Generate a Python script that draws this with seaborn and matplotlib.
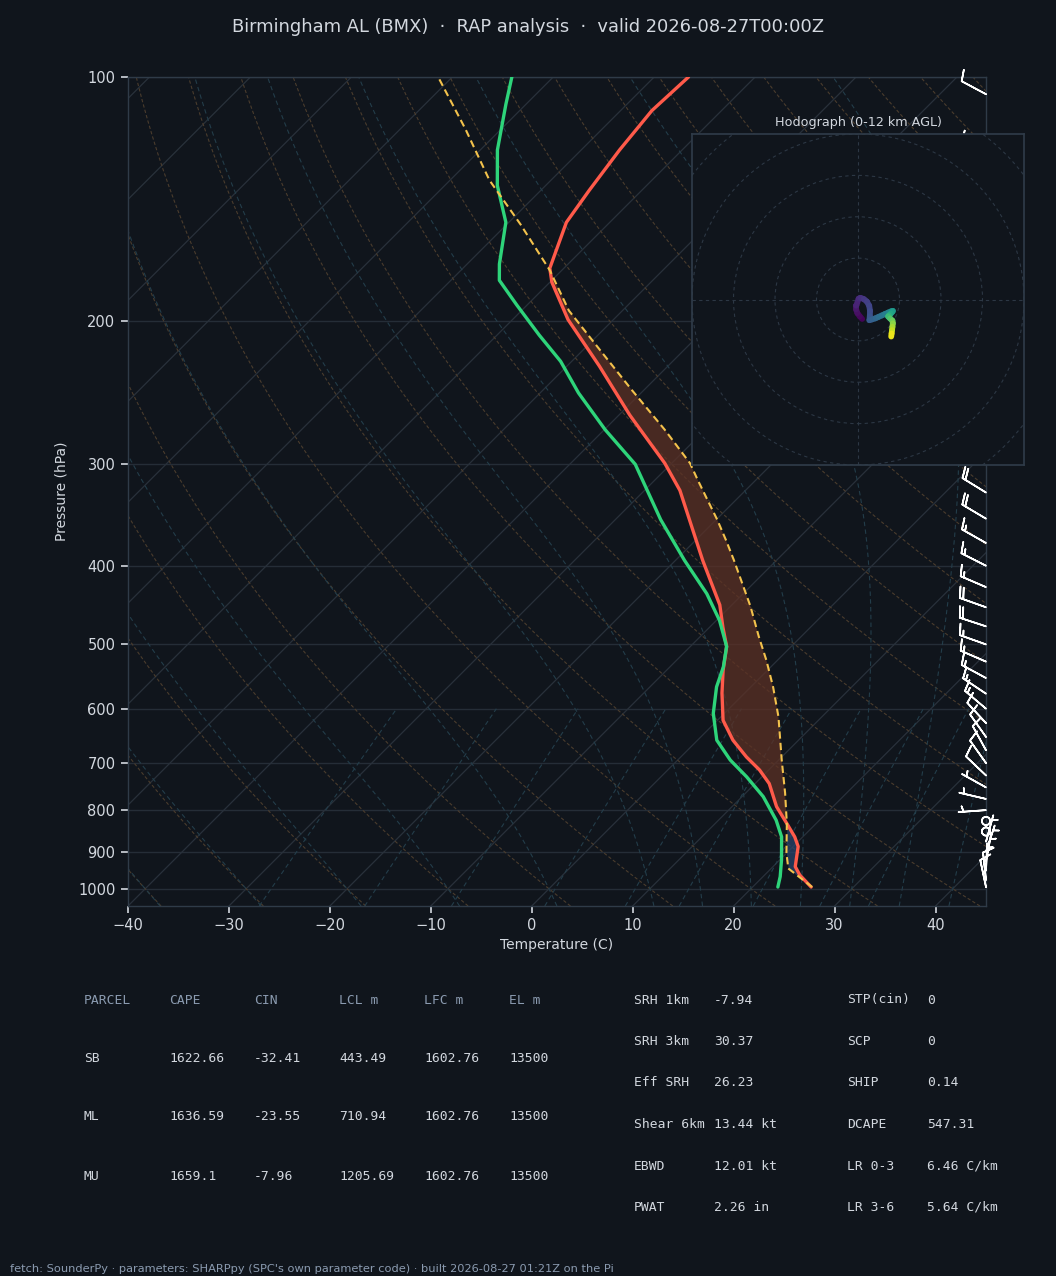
import numpy as np
import matplotlib
matplotlib.use("Agg")
import matplotlib.pyplot as plt
from matplotlib.collections import LineCollection
from matplotlib.colors import Normalize
from matplotlib.patches import Circle
import seaborn as sns

BG = "#10151c"
FG = "#d3d8df"
MUTED = "#8b9bb0"
SPINE = "#2f3b48"

sns.set_theme(style="dark", rc={
    "figure.facecolor": BG, "axes.facecolor": BG, "savefig.facecolor": BG,
    "axes.edgecolor": SPINE, "text.color": FG, "axes.labelcolor": FG,
    "xtick.color": FG, "ytick.color": FG,
})
plt.rcParams["font.family"] = ["DejaVu Sans"]

# ---------------- sounding ----------------
env_p = [995, 962, 939, 887, 863, 831, 792, 742, 714, 688, 656, 620, 574, 538,
         503, 476, 447, 394, 323, 299, 261, 227, 199, 179, 172, 151, 138, 123, 110, 100]
env_t = [25.8, 23.5, 22.2, 20.5, 19.2, 17.1, 14.4, 11.4, 9.1, 6.5, 3.5, 0.55, -2.25, -4.4,
         -6.4, -8.7, -11.2, -17.3, -26.5, -30.7, -38.9, -46.8, -54.5, -59.8, -61.4, -64.3,
         -65.2, -66.2, -66.9, -66.6]

dew_p = [995, 966, 922, 863, 823, 770, 728, 694, 656, 608, 564, 533, 503, 467, 433,
         394, 351, 300, 272, 245, 224, 208, 191, 178, 170, 151, 136, 123, 108, 100]
dew_t = [22.5, 21.7, 20.2, 17.9, 15.7, 12.1, 8.5, 5.2, 1.9, -1.1, -3.4, -4.7, -6.4, -9.7,
         -13.6, -19.1, -25.5, -33.5, -39.9, -46.2, -51.1, -55.8, -61.0, -65.2, -66.8,
         -70.3, -74.8, -78.3, -82.0, -84.1]

parcel_p = [995, 944, 904, 831, 762, 694, 614, 564, 523, 489, 449, 394, 372, 351, 332, 314,
            299, 272, 243, 217, 194, 173, 152, 134, 116, 100]
parcel_t = [25.9, 21.7, 20.0, 17.1, 13.9, 10.3, 5.7, 2.2, -1.1, -4.2, -8.0, -14.2, -17.0,
            -19.9, -22.8, -25.7, -28.2, -34.0, -41.2, -48.3, -55.3, -61.2, -68.6, -76.1,
            -83.5, -91.4]

# winds (kt) and heights AGL (km)
wind_p = [995, 975, 950, 925, 900, 875, 850, 825, 800, 775, 750, 725, 700, 675, 650, 625,
          600, 575, 550, 525, 500, 475, 450, 425, 400, 375, 350, 325, 300, 275, 250, 225,
          200, 175, 150, 125, 105]
wind_h = [0.0, 0.17, 0.39, 0.61, 0.84, 1.07, 1.31, 1.56, 1.81, 2.07, 2.34, 2.62, 2.91, 3.21,
          3.52, 3.84, 4.17, 4.52, 4.88, 5.25, 5.64, 6.05, 6.48, 6.93, 7.4, 7.9, 8.43, 8.99,
          9.59, 10.23, 10.6, 11.3, 12.0, 12.75, 13.65, 14.75, 15.8]
wind_u = [2.0, 0.9, -0.3, -0.9, -1.0, -0.8, 0.3, 1.2, 2.8, 4.3, 5.4, 5.8, 5.7, 5.5, 6.8, 8.4,
          9.9, 11.5, 13.0, 14.6, 16.0, 16.8, 16.6, 15.8, 15.0, 14.5, 15.5, 16.6, 16.8, 16.6,
          16.4, 16.2, 16.0, 13.0, 11.0, 9.5, 9.0]
wind_v = [-9.4, -8.2, -6.6, -4.8, -3.0, -2.9, 0.4, 0.8, 0.2, -1.0, -3.0, -5.5, -8.0, -10.0,
          -9.6, -9.1, -8.4, -7.7, -7.0, -6.3, -5.7, -5.5, -5.9, -6.8, -7.6, -8.2, -9.2, -10.2,
          -11.5, -13.2, -14.8, -16.4, -17.9, -12.0, -8.0, -5.5, -4.8]

# ---------------- parameter table ----------------
parcel_header = ["PARCEL", "CAPE", "CIN", "LCL m", "LFC m", "EL m"]
parcel_rows = [
    ["SB", "1622.66", "-32.41", "443.49", "1602.76", "13500"],
    ["ML", "1636.59", "-23.55", "710.94", "1602.76", "13500"],
    ["MU", "1659.1", "-7.96", "1205.69", "1602.76", "13500"],
]
index_left = [("SRH 1km", "-7.94"), ("SRH 3km", "30.37"), ("Eff SRH", "26.23"),
              ("Shear 6km", "13.44 kt"), ("EBWD", "12.01 kt"), ("PWAT", "2.26 in")]
index_right = [("STP(cin)", "0"), ("SCP", "0"), ("SHIP", "0.14"),
               ("DCAPE", "547.31"), ("LR 0-3", "6.46 C/km"), ("LR 3-6", "5.64 C/km")]

# ---------------- figure ----------------
W, H = 1056, 1276
fig = plt.figure(figsize=(W / 100, H / 100), dpi=100)

ax_l, ax_t, ax_r, ax_b = 128, 77, 986, 906
ax = fig.add_axes([ax_l / W, 1 - ax_b / H, (ax_r - ax_l) / W, (ax_b - ax_t) / H])

P_BOT, P_TOP = 1050, 100
T_MIN, T_MAX = -40, 45
# 45 degree skew on screen
K = ((ax_b - ax_t) / (ax_r - ax_l)) * (T_MAX - T_MIN) / np.log10(P_BOT / P_TOP)


def skew(t, p):
    return np.asarray(t, float) + K * np.log10(P_BOT / np.asarray(p, float))


ax.set_yscale("log")
ax.set_ylim(P_BOT, P_TOP)
ax.set_xlim(T_MIN, T_MAX)

# reference lines
pp = np.geomspace(P_BOT, P_TOP, 200)
for t0 in np.arange(-160, 50, 10):
    ax.plot(skew(np.full_like(pp, t0), pp), pp, color="#29313b", lw=0.9, zorder=1)

for th in np.arange(-50, 220, 10):
    t = (th + 273.15) * (pp / 1000.0) ** 0.2857 - 273.15
    ax.plot(skew(t, pp), pp, color="#4a3c2d", lw=0.8, ls=(0, (3, 2)), zorder=1)


def dtdp(t, p):
    es = 6.112 * np.exp(17.67 * (t - 273.15) / (t - 29.65))
    rs = 0.622 * es / (p - es)
    num = 287.04 * t + 2.501e6 * rs
    den = 1005.7 + (2.501e6 ** 2 * rs * 0.622) / (287.04 * t ** 2)
    return num / den / p


def moist_line(t0c, pres):
    out = [t0c + 273.15]
    for i in range(1, len(pres)):
        t, p0, dp = out[-1], pres[i - 1], pres[i] - pres[i - 1]
        k1 = dtdp(t, p0)
        k2 = dtdp(t + 0.5 * dp * k1, p0 + 0.5 * dp)
        k3 = dtdp(t + 0.5 * dp * k2, p0 + 0.5 * dp)
        k4 = dtdp(t + dp * k3, p0 + dp)
        out.append(t + dp * (k1 + 2 * k2 + 2 * k3 + k4) / 6)
    return np.array(out) - 273.15


MOIST = "#233d4a"
p_up = np.geomspace(1000, P_TOP, 160)
p_dn = np.linspace(1000, P_BOT, 10)
for t0 in list(range(-40, 9, 10)) + list(range(10, 46, 5)):
    tu = moist_line(t0, p_up)
    td = moist_line(t0, p_dn)
    ps = np.concatenate([p_dn[::-1], p_up[1:]])
    ts = np.concatenate([td[::-1], tu[1:]])
    ax.plot(skew(ts, ps), ps, color=MOIST, lw=0.8, ls=(0, (4, 3)), zorder=1)

pm = np.geomspace(P_BOT, 600, 40)
for w in [0.4, 1, 2, 4, 7, 10, 16, 24, 32]:
    e = (w / 1000) * pm / (0.622 + w / 1000)
    le = np.log(e / 6.112)
    tdw = 243.5 * le / (17.67 - le)
    ax.plot(skew(tdw, pm), pm, color=MOIST, lw=0.8, ls=(0, (4, 3)), zorder=1)

# CAPE / CIN shading
pg = np.geomspace(995, P_TOP, 500)
env_i = np.interp(-np.log(pg), -np.log(env_p), env_t)
par_i = np.interp(-np.log(pg), -np.log(parcel_p), parcel_t)
ax.fill_betweenx(pg, skew(env_i, pg), skew(par_i, pg), where=par_i >= env_i,
                 color="#5c3125", alpha=0.75, interpolate=True, lw=0, zorder=2)
ax.fill_betweenx(pg, skew(env_i, pg), skew(par_i, pg), where=(par_i < env_i) & (pg > 700),
                 color="#2a4570", alpha=0.7, interpolate=True, lw=0, zorder=2)

# profiles
sns.lineplot(x=skew(env_t, env_p), y=env_p, sort=False, estimator=None, ax=ax,
             color="#ff5a4a", lw=2.4, zorder=4)
sns.lineplot(x=skew(dew_t, dew_p), y=dew_p, sort=False, estimator=None, ax=ax,
             color="#2ed47a", lw=2.4, zorder=4)
ax.plot(skew(parcel_t, parcel_p), parcel_p, color="#f3c24c", lw=1.5, ls=(0, (3.5, 2)), zorder=5)

# wind barbs at the right edge
ax.barbs(np.ones(len(wind_p)), wind_p, wind_u, wind_v, transform=ax.get_yaxis_transform(),
         clip_on=False, length=6.3, color="white", linewidth=1.2, zorder=6)

# axes styling
ticks_p = list(range(100, 1001, 100))
ax.set_yticks(ticks_p)
ax.set_yticklabels([str(p) for p in ticks_p])
ax.yaxis.set_minor_locator(matplotlib.ticker.NullLocator())
ax.set_xticks(range(-40, 41, 10))
ax.grid(False)
ax.yaxis.grid(True, color="#252d37", lw=1.0)
ax.tick_params(axis="both", which="major", labelsize=10.5, length=5, width=1.2,
               color=FG, labelcolor=FG, bottom=True, left=True, pad=4)
for s in ax.spines.values():
    s.set_color(SPINE)
    s.set_linewidth(1.0)
ax.set_xlabel("Temperature (C)", fontsize=10, color=FG, labelpad=3)
ax.set_ylabel("Pressure (hPa)", fontsize=10, color=FG, labelpad=7)

fig.text(0.5, 1 - 27 / H, "Birmingham AL (BMX)  \u00b7  RAP analysis  \u00b7  valid 2026-08-27T00:00Z",
         ha="center", va="center", fontsize=12.9, color=FG)

# ---------------- hodograph ----------------
hx = fig.add_axes([692 / W, 1 - 465 / H, 332 / W, 331 / H])
hx.set_facecolor(BG)
hx.set_xlim(-80, 80)
hx.set_ylim(-80, 80)
for r in range(20, 121, 20):
    hx.add_patch(Circle((0, 0), r, fill=False, ls=(0, (3, 3)), ec="#2c3744", lw=0.8))
hx.axhline(0, color="#2c3744", ls=(0, (3, 3)), lw=0.8)
hx.axvline(0, color="#2c3744", ls=(0, (3, 3)), lw=0.8)

hu = np.array(wind_u)
hv = np.array(wind_v)
hh = np.array(wind_h)
keep = hh <= 12.0
pts = np.column_stack([hu[keep], hv[keep]])
segs = np.stack([pts[:-1], pts[1:]], axis=1)
lc = LineCollection(segs, cmap="viridis", norm=Normalize(0, 12), lw=4.2, capstyle="round")
lc.set_array(0.5 * (hh[keep][:-1] + hh[keep][1:]))
hx.add_collection(lc)

hx.set_xticks(range(-75, 76, 25))
hx.set_yticks(range(-80, 81, 20))
hx.tick_params(labelleft=False, labelbottom=False, length=5, width=1, color=FG)
hx.grid(False)
for s in hx.spines.values():
    s.set_color(SPINE)
hx.set_title("Hodograph (0-12 km AGL)", fontsize=9.2, color=FG, pad=6)

# ---------------- tables ----------------
mono = "DejaVu Sans Mono"
col_x = [84, 169, 254, 339, 424, 509]
for x, s in zip(col_x, parcel_header):
    fig.text(x / W, 1 - 1000 / H, s, family=mono, fontsize=9.4, color=MUTED, va="center")
for row, y in zip(parcel_rows, [1058, 1117, 1176]):
    for x, s in zip(col_x, row):
        fig.text(x / W, 1 - y / H, s, family=mono, fontsize=9.4, color=FG, va="center")

row_y = [1000, 1041.5, 1083, 1124.5, 1166, 1207.5]
for (la, va_), (lb, vb), y in zip(index_left, index_right, row_y):
    fig.text(634 / W, 1 - y / H, la, family=mono, fontsize=9.4, color=FG, va="center")
    fig.text(714 / W, 1 - y / H, va_, family=mono, fontsize=9.4, color=FG, va="center")
    fig.text(847 / W, 1 - y / H, lb, family=mono, fontsize=9.4, color=FG, va="center")
    fig.text(927 / W, 1 - y / H, vb, family=mono, fontsize=9.4, color=FG, va="center")

fig.text(10 / W, 1 - 1269 / H,
         "fetch: SounderPy \u00b7 parameters: SHARPpy (SPC's own parameter code) \u00b7 built 2026-08-27 01:21Z on the Pi",
         fontsize=8.2, color=MUTED, va="center")

fig.savefig("out.png", dpi=100, facecolor=BG)
